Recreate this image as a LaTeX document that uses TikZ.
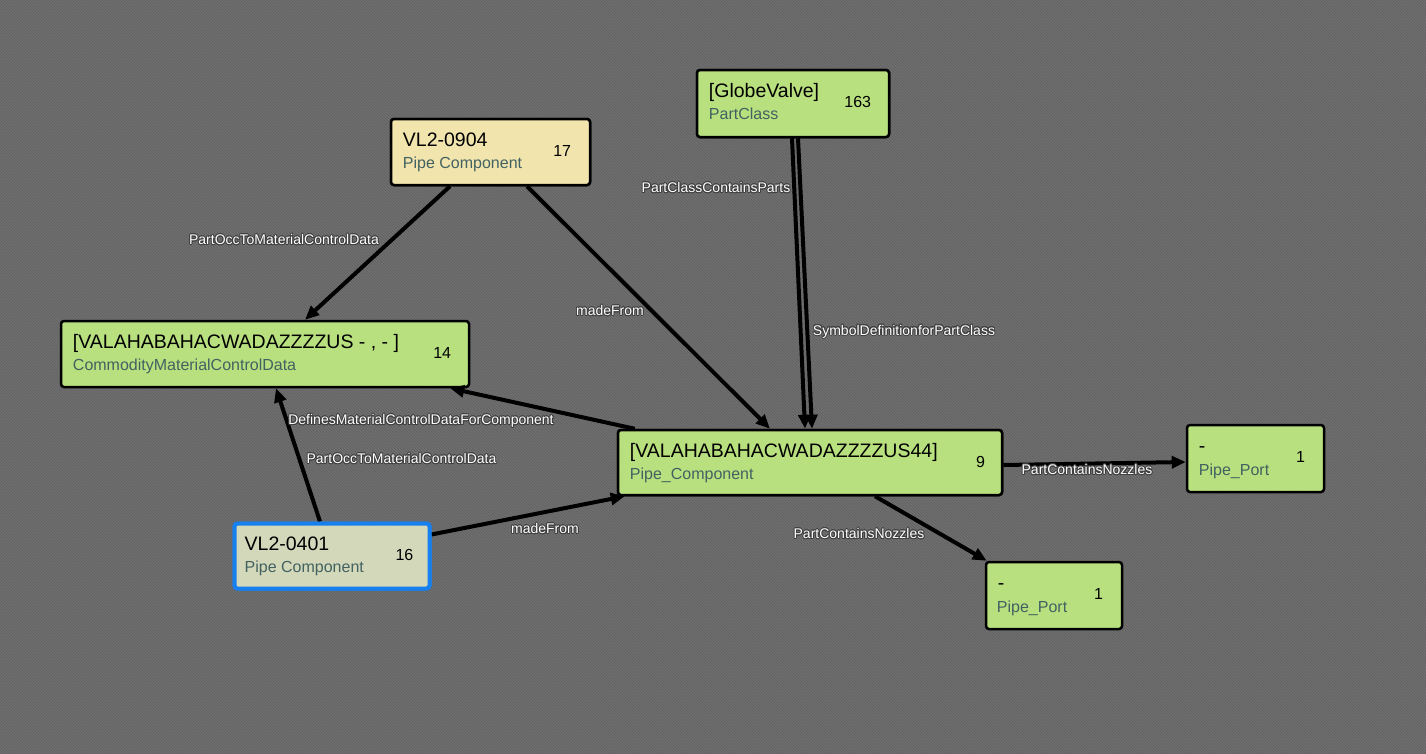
\documentclass[tikz,border=0pt]{standalone}
\usepackage{fontspec}
\setmainfont{Liberation Sans}
\usepackage{contour}
\contourlength{0.8pt}
\usetikzlibrary{arrows.meta,calc,patterns}
\definecolor{bgcol}{RGB}{112,112,112}
\definecolor{bgline}{RGB}{96,96,96}
\definecolor{nodegreen}{RGB}{184,224,126}
\definecolor{nodebeige}{RGB}{241,228,173}
\definecolor{nodesel}{RGB}{212,216,186}
\definecolor{selblue}{RGB}{22,128,238}
\definecolor{subcol}{RGB}{66,98,98}
\newcommand{\elabtext}[1]{\contour{black!75}{#1}}
\begin{document}
\begin{tikzpicture}[x=1pt,y=-1pt,
  box/.style={draw=black, line width=2.5pt, rounded corners=3pt, inner sep=0pt},
  gbox/.style={box, fill=nodegreen},
  ttl/.style={anchor=base west, inner sep=0pt, font=\fontsize{19.5}{22}\selectfont, text=black},
  sub/.style={anchor=base west, inner sep=0pt, font=\fontsize{16}{19}\selectfont, text=subcol},
  num/.style={anchor=base east, inner sep=0pt, font=\fontsize{16}{19}\selectfont, text=black},
  edge/.style={line width=4pt, draw=black, -{Triangle[length=14pt,width=12pt]}},
  elab/.style={inner sep=0pt, font=\fontsize{14}{16}\selectfont, text=white}
]
\useasboundingbox (0,0) rectangle (1426,753);
\begin{pgfinterruptboundingbox}
\fill[bgcol] (-3,-3) rectangle (1429,756);
\fill[pattern=north west lines, pattern color=bgline] (-3,-3) rectangle (1429,756);
\end{pgfinterruptboundingbox}

% boxes
\node[box, fill=nodebeige, minimum width=199pt, minimum height=66pt] (p0904) at (490.5,152) {};
\node[gbox, minimum width=192pt, minimum height=67pt] (globe) at (793,103.5) {};
\node[gbox, minimum width=408pt, minimum height=66pt] (cmcd) at (265,354) {};
\node[gbox, minimum width=384pt, minimum height=65pt] (pc44) at (810,462.5) {};
\node[gbox, minimum width=137pt, minimum height=67pt] (portR) at (1255.5,458.5) {};
\node[gbox, minimum width=136pt, minimum height=67pt] (portB) at (1054,595.5) {};
\node[box, draw=selblue, line width=4pt, fill=nodesel, minimum width=195pt, minimum height=65pt] (p0401) at (332,556) {};

% edges
\draw[edge] ([xshift=-40.5pt]p0904.south) -- ([xshift=40pt]cmcd.north);
\draw[edge] ([xshift=36.5pt]p0904.south) -- ([xshift=-40pt]pc44.north);
\draw[edge] ([xshift=-1pt]globe.south) -- ([xshift=-5pt]pc44.north);
\draw[edge] ([xshift=5pt]globe.south) -- ([xshift=2pt]pc44.north);
\draw[edge] ([xshift=18pt]pc44.north west) -- ([xshift=-20pt]cmcd.south east);
\draw[edge] ([xshift=-12pt]p0401.north) -- ([xshift=11pt]cmcd.south);
\draw[edge] ([yshift=-13pt]p0401.north east) -- ([xshift=8pt]pc44.south west);
\draw[edge] ([yshift=-2.5pt]pc44.east) -- ([yshift=-3.5pt]portR.west);
\draw[edge] ([xshift=65pt]pc44.south) -- ([xshift=2pt]portB.north west);

% redraw boxes on top of edge starts
\node[box, fill=nodebeige, minimum width=199pt, minimum height=66pt] (p0904b) at (490.5,152) {};
\node[gbox, minimum width=192pt, minimum height=67pt] (globeb) at (793,103.5) {};
\node[gbox, minimum width=384pt, minimum height=65pt] (pc44b) at (810,462.5) {};
\node[box, draw=selblue, line width=4pt, fill=nodesel, minimum width=195pt, minimum height=65pt] (p0401b) at (332,556) {};

% texts
\node[ttl] (p0904t) at ($(p0904.north west)+(13,29)$) {VL2-0904};
\node[sub] (p0904s) at ($(p0904.north west)+(13,51)$) {Pipe Component};
\node[num] (p0904n) at ($(p0904.north east)+(-20,39)$) {17};

\node[ttl] (globet) at ($(globe.north west)+(13,29)$) {[GlobeValve]};
\node[sub] (globes) at ($(globe.north west)+(13,51)$) {PartClass};
\node[num] (globen) at ($(globe.north east)+(-19,39)$) {163};

\node[ttl] (cmcdt) at ($(cmcd.north west)+(13,29)$) {[VALAHABAHACWADAZZZZUS - , - ]};
\node[sub] (cmcds) at ($(cmcd.north west)+(13,51)$) {CommodityMaterialControlData};
\node[num] (cmcdn) at ($(cmcd.north east)+(-19,39)$) {14};

\node[ttl] (pc44t) at ($(pc44.north west)+(13,29)$) {[VALAHABAHACWADAZZZZUS44]};
\node[sub] (pc44s) at ($(pc44.north west)+(13,51)$) {Pipe\_Component};
\node[num] (pc44n) at ($(pc44.north east)+(-18,39)$) {9};

\node[ttl] (portRt) at ($(portR.north west)+(13,29)$) {-};
\node[sub] (portRs) at ($(portR.north west)+(13,52)$) {Pipe\_Port};
\node[num] (portRn) at ($(portR.north east)+(-20,39)$) {1};

\node[ttl] (portBt) at ($(portB.north west)+(13,29)$) {-};
\node[sub] (portBs) at ($(portB.north west)+(12,52)$) {Pipe\_Port};
\node[num] (portBn) at ($(portB.north east)+(-20,39)$) {1};

\node[ttl] (p0401t) at ($(p0401.north west)+(12,29)$) {VL2-0401};
\node[sub] (p0401s) at ($(p0401.north west)+(12,51)$) {Pipe Component};
\node[num] (p0401n) at ($(p0401.north east)+(-18,39)$) {16};

% edge labels
\node[elab] (l1) at (284,240) {\elabtext{PartOccToMaterialControlData}};
\node[elab] (l2) at (610,311) {\elabtext{madeFrom}};
\node[elab] (l3) at (716,188) {\elabtext{PartClassContainsParts}};
\node[elab] (l4) at (904,332) {\elabtext{SymbolDefinitionforPartClass}};
\node[elab] (l5) at (421,421.5) {\elabtext{DefinesMaterialControlDataForComponent}};
\node[elab] (l6) at (401.5,459) {\elabtext{PartOccToMaterialControlData}};
\node[elab] (l7) at (545,529) {\elabtext{madeFrom}};
\node[elab] (l8) at (1087,470) {\elabtext{PartContainsNozzles}};
\node[elab] (l9) at (859,534) {\elabtext{PartContainsNozzles}};
\end{tikzpicture}
\end{document}
